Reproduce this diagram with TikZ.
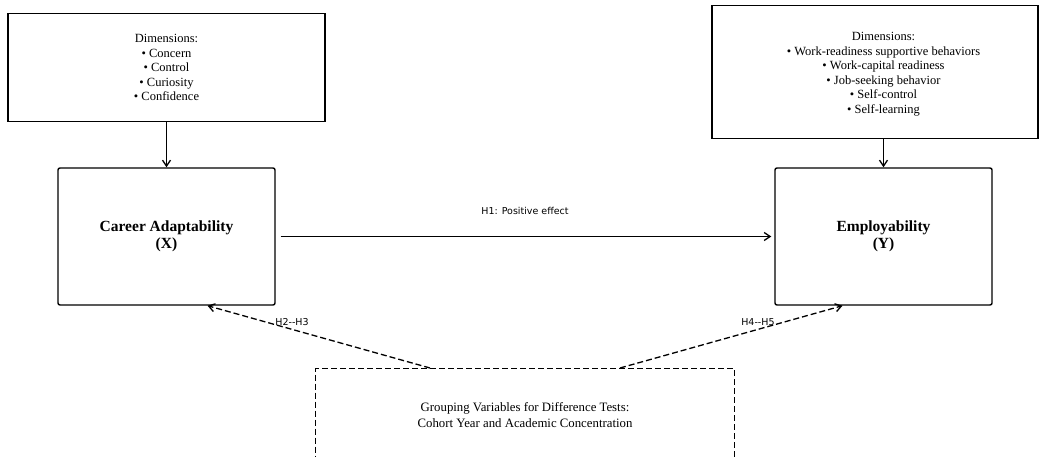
\documentclass[tikz,border=0pt]{standalone}
\usepackage{fontspec}
\setmainfont{Liberation Serif}
\newfontfamily\hypfont{DejaVu Sans}
\usepackage{tikz}
\usetikzlibrary{arrows.meta, positioning}

\begin{document}
\begin{tikzpicture}[
    dims/.style={draw, line width=1.4pt, align=center, font=\fontsize{12.5}{14.5}\selectfont},
    construct/.style={draw, line width=1.4pt, rounded corners=2pt, align=center, minimum width=217pt, minimum height=137pt, font=\fontsize{15.5}{17}\selectfont\bfseries},
    grouping/.style={draw, line width=1.3pt, dash pattern=on 6pt off 3pt, align=center, minimum width=419pt, minimum height=92pt, font=\fontsize{12.8}{16}\selectfont},
    arrow/.style={-{Straight Barb[length=6pt, width=8pt]}, line width=1.3pt},
    dasharrow/.style={arrow, dash pattern=on 6pt off 3pt},
    hyp/.style={font=\hypfont\fontsize{9.5}{11}\selectfont}
]
\useasboundingbox (0,0) rectangle (1039pt,-457pt);
\node[construct] (career) at (166.5pt,-236.5pt) {Career Adaptability\\(X)};
\node[construct] (employ) at (883.5pt,-236.5pt) {Employability\\(Y)};
\node[dims, minimum width=317pt, minimum height=108pt, above=45pt of career] (careerdims) {Dimensions:\\\textbullet{} Concern\\\textbullet{} Control\\\textbullet{} Curiosity\\\textbullet{} Confidence};
\node[dims, minimum width=326pt, minimum height=133pt, above=28pt of employ, xshift=-8.5pt,
    label={[align=center, font=\fontsize{12.5}{14.5}\selectfont, xshift=8.5pt, yshift=-2pt]center:Dimensions:\\\textbullet{} Work-readiness supportive behaviors\\\textbullet{} Work-capital readiness\\\textbullet{} Job-seeking behavior\\\textbullet{} Self-control\\\textbullet{} Self-learning}] (employdims) {};
\node[grouping, anchor=north] (groups) at (525pt,-368pt) {Grouping Variables for Difference Tests:\\Cohort Year and Academic Concentration};

\coordinate (groupleft) at ([xshift=-95pt]groups.north);
\coordinate (groupright) at ([xshift=95pt]groups.north);
\coordinate (careerfoot) at ([xshift=41pt]career.south);
\coordinate (employfoot) at ([xshift=-41pt]employ.south);

\draw[arrow] (careerdims) -- (career);
\draw[arrow] (employ.north |- employdims.south) -- (employ.north);
\draw[arrow, shorten <=5pt, shorten >=3pt] (career) -- node[above=18pt, hyp]{H1: Positive effect} (employ);
\draw[dasharrow] (groupleft) -- node[pos=0.62, yshift=7pt, hyp]{H2--H3} (careerfoot);
\draw[dasharrow] (groupright) -- node[pos=0.62, yshift=7pt, hyp]{H4--H5} (employfoot);
\end{tikzpicture}
\end{document}
